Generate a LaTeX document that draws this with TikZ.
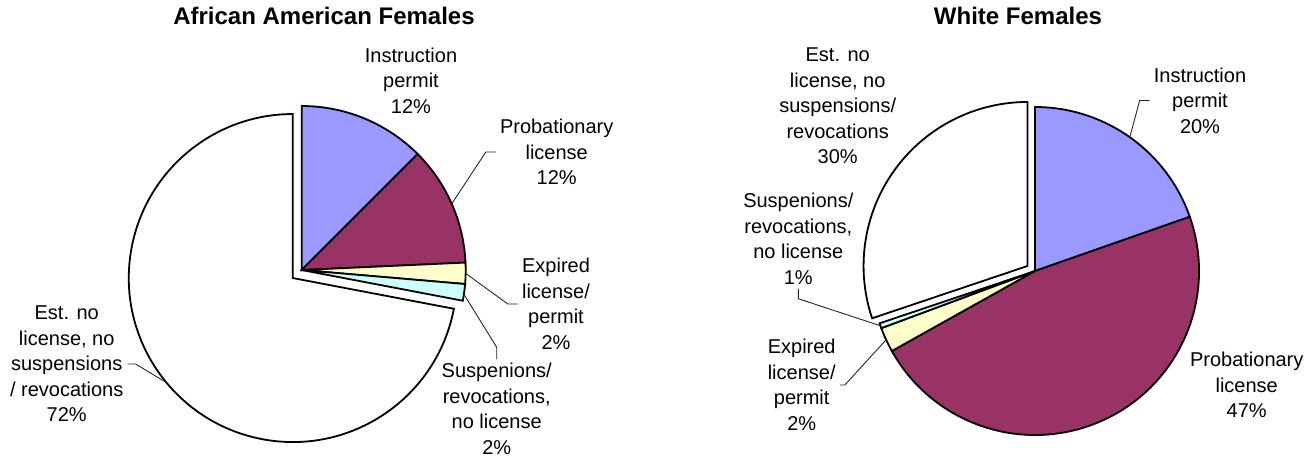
\documentclass[tikz,border=0pt]{standalone}
\usepackage{fontspec}
\setmainfont{Liberation Sans}
\usetikzlibrary{positioning}
\usetikzlibrary{calc}
\definecolor{pie-blue}{HTML}{9999FF}
\definecolor{pie-purple}{HTML}{993366}
\definecolor{pie-yellow}{HTML}{FFFFCC}
\definecolor{pie-cyan}{HTML}{CCFFFF}
\newcommand{\pieradius}{164}
\newcommand{\tikzpieslice}[4][]{%
% one wedge from #2 to #3 degrees (clockwise, y points down)
\draw[line width=1.8pt,line join=miter,fill=#4,#1] (0,0) -- (#2:\pieradius) arc[start angle=#2,end angle=#3,radius=\pieradius] -- cycle;
}
\tikzset{
  pielabel/.style={align=center,font=\fontsize{20}{25.5}\selectfont,inner sep=4pt},
  pietitle/.style={font=\bfseries\fontsize{24}{28}\selectfont},
  leader/.style={draw=black!85,line width=0.9pt}
}
\begin{document}
\begin{tikzpicture}[x=1pt,y=-1pt]
\useasboundingbox (0,0) rectangle (1313,459);
% African American Females
\node[pietitle] (aa-title) at (324,16) {African American Females};
\begin{scope}[shift={(301.7,270)}]
\foreach \from/\to/\col in {-90/-45/pie-blue,-45/-2.6/pie-purple,-2.6/4.9/pie-yellow,4.9/10.8/pie-cyan} {
  \tikzpieslice{\from}{\to}{\col}
}
\tikzpieslice[shift={(138:12)}]{10.8}{270}{white} % pulled out
\coordinate (aa-prob-edge) at (-23.8:\pieradius);
\coordinate (aa-exp-edge) at (1.2:\pieradius);
\coordinate (aa-susp-edge) at (8.5:\pieradius);
\coordinate (aa-est-edge) at ($(138:12)+(140.4:\pieradius)$);
\end{scope}
\node[pielabel] (aa-inst) at (411,80.5) {Instruction\\permit\\12\%};
\node[pielabel] (aa-prob) at (556.7,152) {Probationary\\license\\12\%};
\node[pielabel] (aa-exp) at (556,304) {Expired\\license/\\permit\\2\%};
\node[pielabel] (aa-susp) at (496.7,409) {Suspenions/\\revocations,\\no license\\2\%};
\node[pielabel] (aa-est) at (66.7,364) {Est. no\\license, no\\suspensions\\/ revocations\\72\%};
\draw[leader] (aa-prob.west) -- ++(-10,0) -- (aa-prob-edge);
\draw[leader] (aa-exp.west) -- ++(-10,0) -- (aa-exp-edge);
\draw[leader] (aa-susp.north) -- ++(0,-12) -- (aa-susp-edge);
\draw[leader] (aa-est.east) -- ++(8,0) -- (aa-est-edge);
% White Females
\node[pietitle] (wf-title) at (1018,16) {White Females};
\begin{scope}[shift={(1035,271)}]
\foreach \from/\to/\col in {-90/-19.3/pie-blue,-19.3/150.8/pie-purple,150.8/159.6/pie-yellow,159.6/161.4/pie-cyan} {
  \tikzpieslice{\from}{\to}{\col}
}
\tikzpieslice[shift={(-146:9)}]{161.4}{270}{white} % pulled out
\coordinate (wf-inst-edge) at (-54.7:\pieradius);
\coordinate (wf-exp-edge) at (155.2:\pieradius);
\coordinate (wf-susp-edge) at (160.5:\pieradius);
\end{scope}
\node[pielabel] (wf-est) at (837.7,106) {Est. no\\license, no\\suspensions/\\revocations\\30\%};
\node[pielabel] (wf-inst) at (1200,100.5) {Instruction\\permit\\20\%};
\node[pielabel] (wf-susp) at (798.3,239) {Suspenions/\\revocations,\\no license\\1\%};
\node[pielabel] (wf-exp) at (801.7,385) {Expired\\license/\\permit\\2\%};
\node[pielabel] (wf-prob) at (1246.7,385) {Probationary\\license\\47\%};
\draw[leader] (wf-inst.west) -- ++(-10,0) -- (wf-inst-edge);
\draw[leader] (wf-susp.south) -- ++(0,10) -- (wf-susp-edge);
\draw[leader] (wf-exp.east) -- ++(5,0) -- (wf-exp-edge);
\end{tikzpicture}
\end{document}
